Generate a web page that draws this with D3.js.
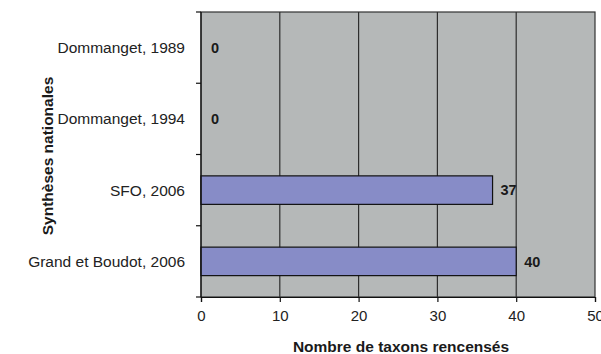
<!DOCTYPE html>
<html>
<head>
<meta charset="utf-8">
<script src="https://cdn.jsdelivr.net/npm/d3@7"></script>
<style>
  body { margin: 0; background: #fff; }
  text { font-family: "Liberation Sans", Arial, sans-serif; }
</style>
</head>
<body>
<div id="chart"></div>
<script>
// Data
const categories = ["Dommanget, 1989", "Dommanget, 1994", "SFO, 2006", "Grand et Boudot, 2006"];
const values = [0, 0, 37, 40];
const xTicks = [0, 10, 20, 30, 40, 50];

// Dimensions
const margin = { top: 12, right: 6, bottom: 57, left: 201 };
const width = 601 - margin.left - margin.right;
const height = 354 - margin.top - margin.bottom;

const svgRoot = d3.select("#chart")
    .append("svg")
    .attr("width", 601)
    .attr("height", 354);

const svg = svgRoot.append("g")
    .attr("transform", `translate(${margin.left},${margin.top})`);

// Scales
const x = d3.scaleLinear().domain([0, 50]).range([0, width]);
const y = d3.scaleBand().domain(categories).range([0, height]).paddingInner(0.6).paddingOuter(0.3);
const yBounds = d3.scaleBand().domain(categories).range([0, height]);

// Plot background
svg.append("rect")
    .attr("width", width)
    .attr("height", height)
    .style("fill", "#b5b8b8")
    .style("stroke", "#333")
    .style("stroke-width", 1.2);

// Gridlines
svg.selectAll(".grid")
    .data(xTicks.slice(1, -1))
    .enter().append("line")
    .attr("x1", d => x(d))
    .attr("x2", d => x(d))
    .attr("y1", 0)
    .attr("y2", height)
    .style("stroke", "#2e2e2e")
    .style("stroke-width", 1.2);

// Bars
svg.selectAll(".bar")
    .data(categories)
    .enter().append("rect")
    .attr("class", "bar")
    .attr("x", 0)
    .attr("y", d => y(d))
    .attr("width", (d, i) => x(values[i]))
    .attr("height", y.bandwidth())
    .style("fill", "#878cc7")
    .style("stroke", "#111")
    .style("stroke-width", 1.2)
    .style("display", (d, i) => values[i] > 0 ? null : "none");

// Value labels
svg.selectAll(".val")
    .data(categories)
    .enter().append("text")
    .attr("x", (d, i) => x(values[i]) + (values[i] > 0 ? 8 : 10))
    .attr("y", d => y(d) + y.bandwidth() / 2)
    .attr("dy", "0.36em")
    .style("font-size", "14.5px")
    .style("font-weight", "bold")
    .style("fill", "#1a1a1a")
    .text((d, i) => values[i]);

// X axis
const xAxis = svg.append("g")
    .attr("transform", `translate(0,${height})`)
    .call(d3.axisBottom(x).tickValues(xTicks).tickSize(5).tickPadding(8));
xAxis.select(".domain").style("stroke", "#111").style("stroke-width", 1.2);
xAxis.selectAll(".tick line").style("stroke", "#111").style("stroke-width", 1.2);
xAxis.selectAll("text")
    .style("font-size", "15px")
    .style("font-family", "'Liberation Sans', Arial, sans-serif")
    .style("fill", "#222");

// Y axis: ticks at band boundaries
const yAxis = svg.append("g");
yAxis.append("line")
    .attr("x1", 0).attr("x2", 0)
    .attr("y1", 0).attr("y2", height)
    .style("stroke", "#111").style("stroke-width", 1.2);
yAxis.selectAll(".ytick")
    .data(categories.concat(["end"]))
    .enter().append("line")
    .attr("x1", -5).attr("x2", 0)
    .attr("y1", (d, i) => i < categories.length ? yBounds(d) : height)
    .attr("y2", (d, i) => i < categories.length ? yBounds(d) : height)
    .style("stroke", "#111").style("stroke-width", 1.2);
yAxis.selectAll(".ylabel")
    .data(categories)
    .enter().append("text")
    .attr("x", -16)
    .attr("y", d => yBounds(d) + yBounds.bandwidth() / 2)
    .attr("dy", "0.35em")
    .attr("text-anchor", "end")
    .style("font-size", "15.5px")
    .style("fill", "#222")
    .text(d => d);

// Axis titles
svgRoot.append("text")
    .attr("x", 401)
    .attr("y", 352)
    .attr("text-anchor", "middle")
    .style("font-size", "15.5px")
    .style("font-weight", "bold")
    .style("fill", "#1a1a1a")
    .text("Nombre de taxons rencensés");

svgRoot.append("text")
    .attr("transform", `translate(53,156) rotate(-90)`)
    .attr("text-anchor", "middle")
    .style("font-size", "15.5px")
    .style("font-weight", "bold")
    .style("fill", "#1a1a1a")
    .text("Synthèses nationales");
</script>
</body>
</html>
